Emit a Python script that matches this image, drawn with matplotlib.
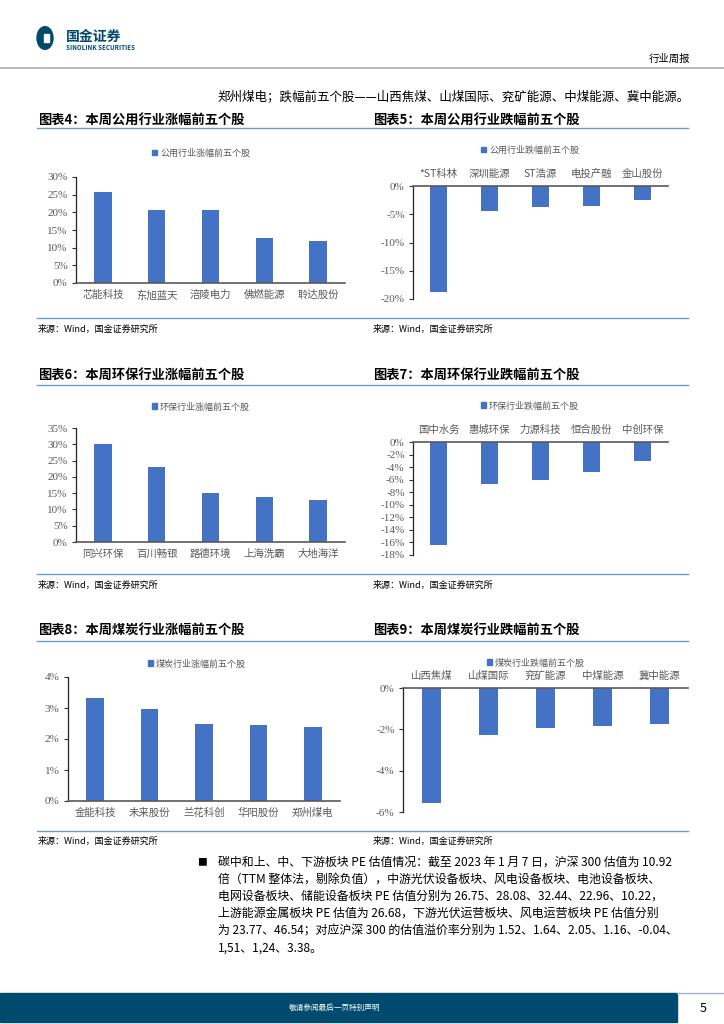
import matplotlib
matplotlib.use("Agg")
import matplotlib.pyplot as plt
from matplotlib.patches import Rectangle, Circle, Patch
from matplotlib.lines import Line2D

plt.rcParams['font.family'] = ['Noto Sans CJK SC', 'DejaVu Sans']
plt.rcParams['axes.unicode_minus'] = False

W, H = 724, 1024
BAR = '#4472C4'
LINE = '#6f9cc4'
NAVY = '#004a6e'
GRAY = '#595959'
NUMFONT = ['Liberation Serif', 'Noto Sans CJK SC']

# ---- 数据 ----
util_up_names = ['芯能科技', '东旭蓝天', '涪陵电力', '佛燃能源', '聆达股份']
util_up_vals = [25.7, 20.7, 20.6, 12.6, 11.8]
util_dn_names = ['*ST科林', '深圳能源', 'ST浩源', '电投产融', '金山股份']
util_dn_vals = [-18.7, -4.4, -3.8, -3.6, -2.4]
env_up_names = ['同兴环保', '百川畅银', '路德环境', '上海洗霸', '大地海洋']
env_up_vals = [30.2, 23.0, 14.9, 13.9, 13.0]
env_dn_names = ['国中水务', '惠城环保', '力源科技', '恒合股份', '中创环保']
env_dn_vals = [-16.4, -6.7, -6.0, -4.8, -3.0]
coal_up_names = ['金能科技', '未来股份', '兰花科创', '华阳股份', '郑州煤电']
coal_up_vals = [3.31, 2.96, 2.48, 2.46, 2.38]
coal_dn_names = ['山西焦煤', '山煤国际', '兖矿能源', '中煤能源', '冀中能源']
coal_dn_vals = [-5.57, -2.28, -1.94, -1.86, -1.73]

fig = plt.figure(figsize=(W / 100, H / 100), dpi=100)


def fx(x):
    return x / W


def fy(y):
    return 1 - y / H


def hline(x0, x1, y, color=LINE, lw=1.0):
    fig.add_artist(Line2D([fx(x0), fx(x1)], [fy(y), fy(y)], color=color, lw=lw,
                          transform=fig.transFigure))


def add_chart(box, names, vals, ylim, step, legend_label, legend_xy, neg=False):
    x0, ytop, x1, ybot = box
    ax = fig.add_axes([fx(x0), fy(ybot), fx(x1) - fx(x0), fy(ytop) - fy(ybot)])
    pos = list(range(len(vals)))
    ax.bar(pos, vals, width=0.32, color=BAR, zorder=2)
    ax.set_xlim(-0.5, len(vals) - 0.5)
    ax.set_ylim(*ylim)
    lo, hi = ylim
    ticks = []
    t = lo
    while t <= hi + 1e-9:
        ticks.append(t)
        t += step
    ax.set_yticks(ticks)
    ax.set_yticklabels([f'{v:.0f}%' for v in ticks], family=NUMFONT, fontsize=8, color=GRAY)
    ax.set_xticks(pos)
    ax.set_xticklabels(names, fontsize=7.5, color=GRAY)
    ax.tick_params(axis='x', length=0, pad=5)
    ax.tick_params(axis='y', length=3, width=0.8, color='#333333', pad=3)
    for s in ax.spines.values():
        s.set_visible(False)
    ax.spines['left'].set_visible(True)
    ax.spines['left'].set_color('#222222')
    ax.spines['left'].set_linewidth(0.9)
    if neg:
        ax.xaxis.tick_top()
        ax.spines['top'].set_visible(True)
        ax.spines['top'].set_color('#595959')
        ax.spines['top'].set_linewidth(1.2)
    else:
        ax.spines['bottom'].set_visible(True)
        ax.spines['bottom'].set_color('#595959')
        ax.spines['bottom'].set_linewidth(1.2)
    ax.set_facecolor('none')
    fig.legend(handles=[Patch(color=BAR, label=legend_label)], loc='center',
               bbox_to_anchor=(fx(legend_xy[0]), fy(legend_xy[1])),
               bbox_transform=fig.transFigure, frameon=False, fontsize=6.5,
               handlelength=0.6, handleheight=0.6, handletextpad=0.3,
               labelcolor=GRAY)
    return ax


def section(xl, title, ty, src_y):
    fig.text(fx(xl), fy(ty), title, fontsize=9.5, fontweight='bold',
             style='italic', va='center', ha='left', color='black')
    fig.text(fx(xl), fy(src_y), '来源：Wind，国金证券研究所', fontsize=6.5,
             va='center', ha='left', color='black')


# ---- 页眉 ----
fig.add_artist(Circle((fx(45), fy(38)), 8 / W, transform=fig.transFigure,
                      color=NAVY))
fig.add_artist(Rectangle((fx(44), fy(42)), 5 / W, 8 / H, transform=fig.transFigure,
                         color='white'))
fig.text(fx(66), fy(37), '国金证券', fontsize=10, fontweight='bold', color=NAVY,
         va='center', ha='left')
fig.text(fx(66), fy(47), 'SINOLINK SECURITIES', fontsize=4.5, fontweight='bold',
         color=NAVY, va='center', ha='left')
fig.text(fx(690), fy(59), '行业周报', fontsize=7.5, va='center', ha='right')
hline(0, W, 68, color='#9fb4c4', lw=1.2)
fig.text(fx(690), fy(97), '郑州煤电；跌幅前五个股——山西焦煤、山煤国际、兖矿能源、中煤能源、冀中能源。',
         fontsize=9, va='center', ha='right')

# ---- 分区线 ----
for ly in (128, 318, 385, 574, 641, 831):
    hline(37, 688, ly)

section(38, '图表4：本周公用行业涨幅前五个股', 120, 329)
section(373, '图表5：本周公用行业跌幅前五个股', 120, 329)
section(38, '图表6：本周环保行业涨幅前五个股', 375, 585)
section(373, '图表7：本周环保行业跌幅前五个股', 375, 585)
section(38, '图表8：本周煤炭行业涨幅前五个股', 630, 841)
section(373, '图表9：本周煤炭行业跌幅前五个股', 630, 841)

add_chart((76, 177, 345, 283), util_up_names, util_up_vals, (0, 30), 5,
          '公用行业涨幅前五个股', (201, 153))
add_chart((413, 186, 668, 299), util_dn_names, util_dn_vals, (-20, 0), 5,
          '公用行业跌幅前五个股', (530, 150), neg=True)
add_chart((76, 428, 345, 542), env_up_names, env_up_vals, (0, 35), 5,
          '环保行业涨幅前五个股', (201, 407))
add_chart((413, 442, 668, 555), env_dn_names, env_dn_vals, (-18, 0), 2,
          '环保行业跌幅前五个股', (530, 406), neg=True)
add_chart((68, 677, 340, 801), coal_up_names, coal_up_vals, (0, 4), 1,
          '煤炭行业涨幅前五个股', (197, 664))
add_chart((403, 688, 688, 812), coal_dn_names, coal_dn_vals, (-6, 0), 2,
          '煤炭行业跌幅前五个股', (536, 663), neg=True)

# ---- 正文 ----
fig.text(fx(197), fy(862), '■', fontsize=7, va='center', ha='left')
body = [
    '碳中和上、中、下游板块 PE 估值情况：截至 2023 年 1 月 7 日，沪深 300 估值为 10.92',
    '倍（TTM 整体法，剔除负值），中游光伏设备板块、风电设备板块、电池设备板块、',
    '电网设备板块、储能设备板块 PE 估值分别为 26.75、28.08、32.44、22.96、10.22，',
    '上游能源金属板块 PE 估值为 26.68，下游光伏运营板块、风电运营板块 PE 估值分别',
    '为 23.77、46.54；对应沪深 300 的估值溢价率分别为 1.52、1.64、2.05、1.16、-0.04、',
    '1,51、1,24、3.38。',
]
for i, line in enumerate(body):
    fig.text(fx(218), fy(862 + i * 17.2), line, fontsize=8.6, va='center', ha='left')

# ---- 页脚 ----
fig.add_artist(Rectangle((0, fy(1022)), fx(677), (1022 - 993) / H,
                         transform=fig.transFigure, color=NAVY))
hline(677, W, 993, color='#9fb4c4', lw=1.0)
fig.text(fx(335), fy(1008), '敬请参阅最后一页特别声明', fontsize=5.5, color='white',
         va='center', ha='center')
fig.text(fx(703), fy(1008), '5', fontsize=9, va='center', ha='center')

fig.savefig('out.png', dpi=100)
